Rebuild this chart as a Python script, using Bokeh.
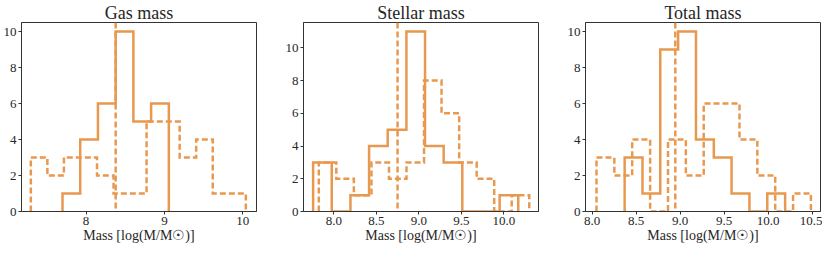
from bokeh.plotting import figure
from bokeh.layouts import row
from bokeh.models import Range1d, FixedTicker, Span, NumeralTickFormatter
from bokeh.embed import file_html
from bokeh.resources import INLINE

# ---- data ----
gas_solid_edges = [7.700, 7.926, 8.152, 8.378, 8.604, 8.830, 9.056]
gas_solid_counts = [1, 4, 6, 10, 5, 6]
gas_dash_edges = [7.296, 7.507, 7.718, 7.929, 8.140, 8.351, 8.561, 8.772,
                  8.983, 9.194, 9.405, 9.616, 9.827, 10.038]
gas_dash_counts = [3, 2, 3, 3, 2, 1, 1, 5, 5, 3, 4, 1, 1]
gas_median = 8.378

stellar_solid_edges = [7.757, 7.976, 8.196, 8.415, 8.634, 8.854, 9.073,
                       9.292, 9.511, 9.731, 9.950, 10.169]
stellar_solid_counts = [3, 0, 1, 4, 5, 11, 4, 3, 0, 0, 1]
stellar_dash_edges = [7.824, 8.030, 8.236, 8.443, 8.649, 8.855, 9.061,
                      9.267, 9.474, 9.680, 9.886, 10.092, 10.298]
stellar_dash_counts = [3, 2, 1, 3, 2, 3, 8, 6, 3, 2, 0, 1]
stellar_median = 8.75

total_solid_edges = [8.369, 8.572, 8.774, 8.977, 9.180, 9.383, 9.585,
                     9.788, 9.991, 10.194]
total_solid_counts = [3, 1, 9, 10, 4, 3, 1, 0, 1]
total_dash_edges = [8.049, 8.252, 8.455, 8.659, 8.862, 9.065, 9.268,
                    9.471, 9.675, 9.878, 10.081, 10.284, 10.487]
total_dash_counts = [3, 2, 4, 0, 4, 2, 6, 6, 4, 2, 0, 1]
total_median = 8.945

titles = ["Gas mass", "Stellar mass", "Total mass"]
x_label = "Mass [log(M/M\u2609)]"
gas_xticks = [8, 9, 10]
stellar_xticks = [8.0, 8.5, 9.0, 9.5, 10.0]
total_xticks = [8.0, 8.5, 9.0, 9.5, 10.0, 10.5]
yticks = [0, 2, 4, 6, 8, 10]

# ---- styling ----
COLOR = "#E8984F"
TEXT = "#262626"
SPINE = "#333333"
FONT = "'Liberation Serif', 'DejaVu Serif', serif"
FRAME_W = 235
FRAME_H = 189


def outline(edges, counts):
    xs = [edges[0]]
    ys = [0]
    for i, c in enumerate(counts):
        xs += [edges[i], edges[i + 1]]
        ys += [c, c]
    xs.append(edges[-1])
    ys.append(0)
    return xs, ys


def panel(title, s_edges, s_counts, d_edges, d_counts, med, xr, ymax, xticks,
          fmt_one_decimal, mb_left, mb_right):
    p = figure(frame_width=FRAME_W, frame_height=FRAME_H,
               x_range=Range1d(*xr), y_range=Range1d(0, ymax),
               output_backend="svg", toolbar_location=None,
               min_border_left=mb_left, min_border_right=mb_right,
               min_border_top=0, min_border_bottom=0)
    p.title.text = title
    p.title.align = "center"
    p.title.text_font = FONT
    p.title.text_font_size = "18px"
    p.title.text_font_style = "normal"
    p.title.text_color = TEXT
    p.title.standoff = 0
    p.title.offset = 0

    p.grid.visible = False
    p.outline_line_color = SPINE
    p.outline_line_width = 1
    p.outline_line_alpha = 1
    p.background_fill_color = "white"
    p.border_fill_color = "white"

    for ax in (p.xaxis[0], p.yaxis[0]):
        ax.axis_line_color = SPINE
        ax.major_tick_line_color = SPINE
        ax.major_tick_out = 3
        ax.major_tick_in = 0
        ax.minor_tick_line_color = None
        ax.major_label_text_font = FONT
        ax.major_label_text_font_size = "13px"
        ax.major_label_text_color = TEXT
        ax.major_label_standoff = 2
    p.xaxis.ticker = FixedTicker(ticks=xticks)
    p.yaxis.ticker = FixedTicker(ticks=yticks)
    if fmt_one_decimal:
        p.xaxis.formatter = NumeralTickFormatter(format="0.0")
    p.xaxis.axis_label = x_label
    p.xaxis.axis_label_text_font = FONT
    p.xaxis.axis_label_text_font_size = "14px"
    p.xaxis.axis_label_text_font_style = "normal"
    p.xaxis.axis_label_text_color = TEXT
    p.xaxis.axis_label_standoff = 0

    sx, sy = outline(s_edges, s_counts)
    dx, dy = outline(d_edges, d_counts)
    p.line(sx, sy, line_color=COLOR, line_width=2.5, line_join="miter")
    p.line(dx, dy, line_color=COLOR, line_width=2.5, line_join="miter",
           line_dash="6 3")
    p.add_layout(Span(location=med, dimension="height", line_color=COLOR,
                      line_width=2.5, line_dash="6 3"))
    return p


p1 = panel(titles[0], gas_solid_edges, gas_solid_counts, gas_dash_edges,
           gas_dash_counts, gas_median, (7.177, 10.174), 10.5, gas_xticks,
           False, 14, 20)
p2 = panel(titles[1], stellar_solid_edges, stellar_solid_counts,
           stellar_dash_edges, stellar_dash_counts, stellar_median,
           (7.644, 10.407), 11.55, stellar_xticks, True, 27, 20)
p3 = panel(titles[2], total_solid_edges, total_solid_counts, total_dash_edges,
           total_dash_counts, total_median, (7.924, 10.596), 10.5,
           total_xticks, True, 27, 2)

layout = row(p1, p2, p3)
open("out.html", "w").write(file_html(layout, INLINE))
